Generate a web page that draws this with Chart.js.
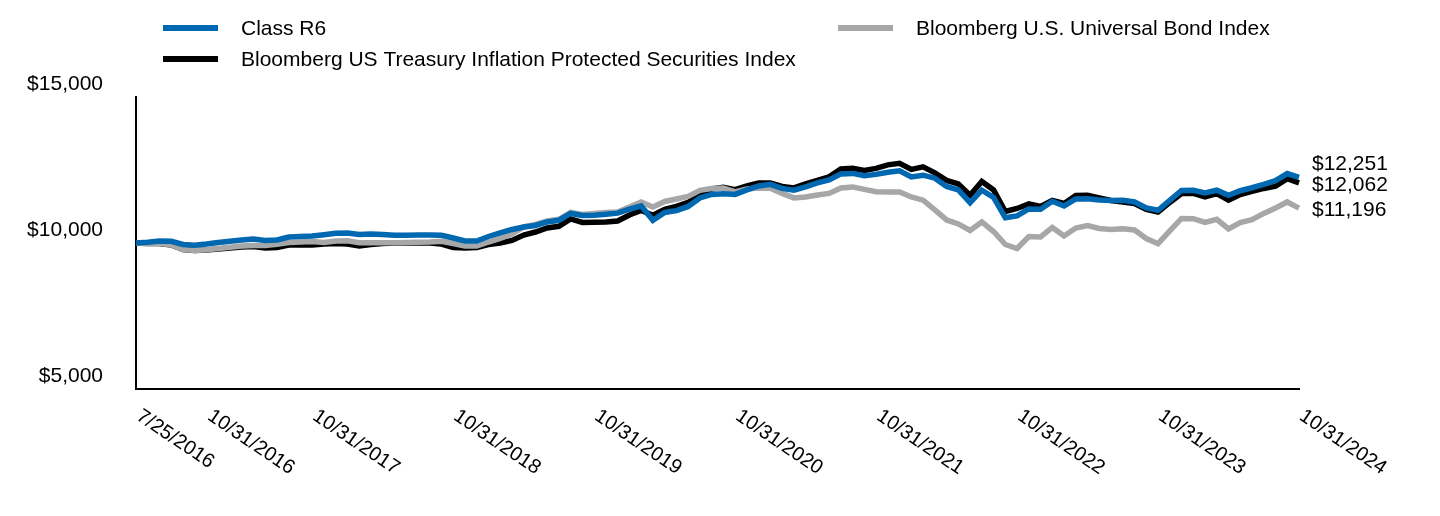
<!DOCTYPE html>
<html>
<head>
<meta charset="utf-8">
<script src="https://cdn.jsdelivr.net/npm/chart.js@4.4.1/dist/chart.umd.min.js"></script>
<style>
html,body{margin:0;padding:0;background:#fff;}
#wrap{width:1440px;height:516px;position:relative;}
</style>
</head>
<body>
<div id="wrap"><canvas id="c" width="1440" height="516"></canvas></div>
<script>
// Categories: start date, then month-ends Aug 2016 .. Oct 2024
const dates = ['7/25/2016'];
(function(){
  for (let y = 2016; y <= 2024; y++) {
    for (let m = (y === 2016 ? 8 : 1); m <= 12; m++) {
      if (y === 2024 && m > 10) break;
      const d = new Date(y, m, 0).getDate();
      dates.push(m + '/' + d + '/' + y);
    }
  }
})();

const xTickLabels = ['7/25/2016','10/31/2016','10/31/2017','10/31/2018','10/31/2019','10/31/2020','10/31/2021','10/31/2022','10/31/2023','10/31/2024'];
const yTickValues = [5000, 10000, 15000];
const yTickLabels = ['$5,000', '$10,000', '$15,000'];

const seriesNames = ['Class R6', 'Bloomberg U.S. Universal Bond Index', 'Bloomberg US Treasury Inflation Protected Securities Index'];

const classR6 = [10000,10027,10072,10058,9949,9925,9966,10017,10062,10103,
  10137,10086,10103,10206,10220,10240,10285,10333,10343,10292,
  10309,10292,10264,10264,10274,10278,10264,10172,10069,10069,
  10223,10343,10463,10549,10600,10720,10779,11012,10943,10950,
  10981,11022,11156,11269,10779,11046,11108,11252,11544,11664,
  11688,11664,11818,11955,12010,11869,11808,11921,12058,12161,
  12367,12384,12305,12350,12425,12470,12264,12322,12219,11938,
  11818,11382,11808,11561,10864,10926,11166,11156,11430,11269,
  11509,11519,11475,11458,11465,11406,11201,11122,11458,11801,
  11808,11715,11808,11636,11790,11893,12007,12133,12377,12251];

const universalBond = [10000,9983,9990,9931,9777,9743,9767,9811,9853,9897,
  9914,9914,9955,10017,10034,10051,10017,10069,10075,10010,
  10010,10010,10010,10017,10027,10034,10058,9983,9897,9897,
  10034,10154,10309,10549,10635,10755,10813,11046,10978,11012,
  11046,11063,11235,11406,11235,11423,11509,11595,11801,11869,
  11887,11749,11852,11887,11876,11698,11544,11578,11646,11698,
  11887,11921,11835,11756,11749,11749,11578,11465,11132,10789,
  10652,10429,10720,10394,9949,9811,10223,10206,10532,10240,
  10515,10600,10497,10463,10490,10446,10154,9976,10412,10840,
  10833,10703,10813,10480,10703,10796,11012,11201,11406,11196];

const tipsIndex = [10000,9983,9983,9931,9777,9743,9760,9794,9829,9863,
  9880,9829,9846,9931,9931,9931,9966,9983,9966,9897,
  9949,9983,10000,10000,10010,10000,9966,9846,9829,9846,
  9949,10000,10086,10274,10377,10515,10573,10823,10703,10710,
  10720,10755,10960,11115,10950,11149,11252,11389,11681,11852,
  11904,11828,11955,12058,12058,11938,11887,12024,12144,12264,
  12538,12562,12487,12555,12675,12727,12521,12607,12401,12144,
  12024,11636,12109,11818,11080,11183,11338,11252,11458,11355,
  11629,11636,11544,11458,11406,11355,11149,11063,11389,11691,
  11698,11578,11691,11465,11657,11766,11869,11945,12205,12062];

const COLORS = { r6: '#0067b1', univ: '#a5a7a8', tips: '#000000' };
const FONT = '"Liberation Sans", Arial, Helvetica, sans-serif';

function fmt(v){ return '$' + v.toLocaleString('en-US'); }

const labelPlugin = {
  id: 'customLabels',
  afterDraw(chart) {
    const ctx = chart.ctx;
    const xs = chart.scales.x, ys = chart.scales.y, area = chart.chartArea;
    ctx.save();
    ctx.fillStyle = '#000';

    // Y tick labels (drawn above their tick positions like the original)
    ctx.font = '21px ' + FONT;
    ctx.textAlign = 'right';
    ctx.textBaseline = 'middle';
    yTickValues.forEach((v, i) => {
      ctx.fillText(yTickLabels[i], area.left - 33, ys.getPixelForValue(v) - 13);
    });

    // X tick labels, rotated clockwise, anchored at start
    ctx.font = '20px ' + FONT;
    ctx.textAlign = 'left';
    ctx.textBaseline = 'top';
    xTickLabels.forEach((lab, i) => {
      const idx = dates.indexOf(lab);
      let px = xs.getPixelForValue(idx) + 8;
      if (i === 1) px += 36; // original nudges 2nd label away from the first
      ctx.save();
      ctx.translate(px, area.bottom + 17);
      ctx.rotate(34 * Math.PI / 180);
      ctx.fillText(lab, 0, 0);
      ctx.restore();
    });

    // End-value labels
    ctx.font = '21px ' + FONT;
    ctx.textAlign = 'left';
    ctx.textBaseline = 'middle';
    const ends = chart.data.datasets.map((ds) => {
      const v = ds.data[ds.data.length - 1];
      return { v, y: ys.getPixelForValue(v) };
    }).sort((a, b) => b.y - a.y);
    let prev = null;
    ends.forEach(e => {
      let y = e.y;
      if (prev !== null && y > prev - 21) y = prev - 21;
      prev = y;
      ctx.fillText(fmt(e.v), area.right + 13, y + 2);
    });

    // Legend
    const items = [
      { name: seriesNames[0], color: COLORS.r6, x: 163, y: 28 },
      { name: seriesNames[2], color: COLORS.tips, x: 163, y: 59 },
      { name: seriesNames[1], color: COLORS.univ, x: 838, y: 28 }
    ];
    ctx.font = '21px ' + FONT;
    ctx.textBaseline = 'middle';
    items.forEach(it => {
      ctx.strokeStyle = it.color;
      ctx.lineWidth = 6;
      ctx.beginPath();
      ctx.moveTo(it.x, it.y);
      ctx.lineTo(it.x + 55, it.y);
      ctx.stroke();
      ctx.fillStyle = '#000';
      ctx.fillText(it.name, it.x + 78, it.y + 1);
    });
    ctx.restore();
  }
};

const lineStyle = { borderWidth: 5.5, pointRadius: 0, pointHoverRadius: 0, tension: 0, fill: false };

new Chart(document.getElementById('c'), {
  type: 'line',
  data: {
    labels: dates,
    datasets: [
      Object.assign({ label: seriesNames[0], data: classR6, borderColor: COLORS.r6, backgroundColor: COLORS.r6 }, lineStyle),
      Object.assign({ label: seriesNames[1], data: universalBond, borderColor: COLORS.univ, backgroundColor: COLORS.univ }, lineStyle),
      Object.assign({ label: seriesNames[2], data: tipsIndex, borderColor: COLORS.tips, backgroundColor: COLORS.tips }, lineStyle)
    ]
  },
  options: {
    responsive: false,
    animation: false,
    devicePixelRatio: 1,
    layout: { padding: { left: 136, right: 141, top: 97, bottom: 127 } },
    plugins: { legend: { display: false }, tooltip: { enabled: false } },
    scales: {
      x: {
        type: 'category',
        offset: false,
        grid: { display: false, drawTicks: false, tickLength: 0 },
        ticks: { display: false, padding: 0 },
        border: { display: true, color: '#000', width: 2 }
      },
      y: {
        min: 5000, max: 15000,
        grid: { display: false, drawTicks: false, tickLength: 0 },
        ticks: { display: false, padding: 0 },
        border: { display: true, color: '#000', width: 2 }
      }
    }
  },
  plugins: [labelPlugin]
});
</script>
</body>
</html>
